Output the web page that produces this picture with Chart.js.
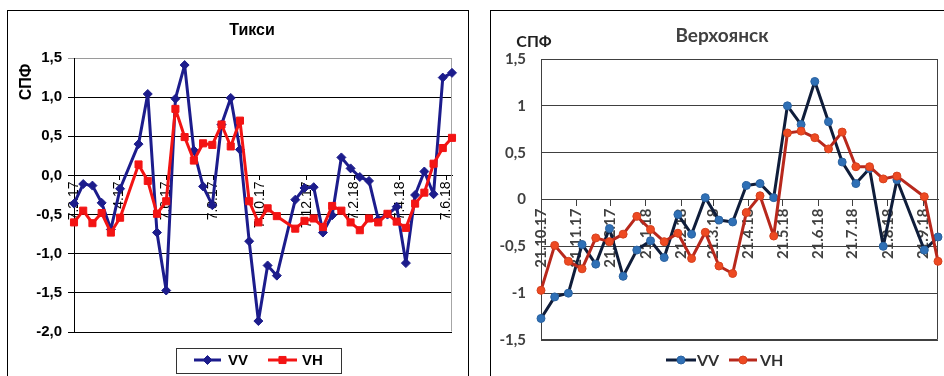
<!DOCTYPE html>
<html>
<head>
<meta charset="utf-8">
<script src="https://cdn.jsdelivr.net/npm/chart.js@4.4.1/dist/chart.umd.min.js"></script>
<style>
  html, body { margin: 0; padding: 0; background: #fff; overflow: hidden; width: 944px; height: 376px; }
  .panel { position: absolute; box-sizing: border-box; border: 1px solid #000; background: #fff; }
  #tiksiPanel { left: 7px; top: 10px; width: 462px; height: 400px; }
  #verkhPanel { left: 490px; top: 10px; width: 480px; height: 400px; }
  canvas { position: absolute; left: 0; top: 0; }
</style>
</head>
<body>
<div class="panel" id="tiksiPanel"><canvas id="tiksi" width="460" height="365"></canvas></div>
<div class="panel" id="verkhPanel"><canvas id="verkh" width="453" height="365"></canvas></div>
<script>
// ---- Тикси: acquisition dates and backscatter anomalies (СПФ) ----
const tiksiDates = [
  '2017-02-07','2017-02-19','2017-03-03','2017-03-15','2017-03-27','2017-04-08',
  '2017-05-02','2017-05-14','2017-05-26','2017-06-07','2017-06-19','2017-07-01',
  '2017-07-13','2017-07-25','2017-08-06','2017-08-18','2017-08-30','2017-09-11',
  '2017-09-23','2017-10-05','2017-10-17','2017-10-29',
  '2017-11-22','2017-12-04','2017-12-16','2017-12-28','2018-01-09','2018-01-21',
  '2018-02-02','2018-02-14','2018-02-26','2018-03-10','2018-03-22','2018-04-03',
  '2018-04-15','2018-04-27','2018-05-09','2018-05-21','2018-06-02','2018-06-14'
];
const tiksiVV = [
  -0.36, -0.11, -0.13, -0.35, -0.69, -0.17,
   0.40,  1.04, -0.73, -1.47,  0.98,  1.41,
   0.32, -0.14, -0.38,  0.65,  0.99,  0.33,
  -0.84, -1.86, -1.15, -1.28,
  -0.31, -0.16, -0.15, -0.73, -0.51,  0.23,
   0.09, -0.02, -0.07, -0.56, -0.50, -0.40,
  -1.12, -0.25,  0.05, -0.24,  1.25,  1.31
];
const tiksiVH = [
  -0.60, -0.45, -0.61, -0.48, -0.73, -0.54,
   0.14, -0.07, -0.49, -0.33,  0.85,  0.49,
   0.19,  0.41,  0.39,  0.65,  0.37,  0.70,
  -0.33, -0.60, -0.42, -0.52,
  -0.68, -0.58, -0.55, -0.66, -0.39, -0.45,
  -0.60, -0.70, -0.55, -0.60, -0.49, -0.59,
  -0.67, -0.36, -0.22,  0.15,  0.35,  0.48
];
const tiksiTicks = ['2017-02-07','2017-04-07','2017-06-07','2017-08-07','2017-10-07',
                    '2017-12-07','2018-02-07','2018-04-07','2018-06-07'];
const tiksiRange = ['2017-02-07', '2018-06-14'];

// ---- Верхоянск ----
const verkhDates = [
  '2017-10-21','2017-11-02','2017-11-14','2017-11-26','2017-12-08','2017-12-20',
  '2018-01-01','2018-01-13','2018-01-25','2018-02-06','2018-02-18','2018-03-02',
  '2018-03-14','2018-03-26','2018-04-07','2018-04-19','2018-05-01','2018-05-13',
  '2018-05-25','2018-06-06','2018-06-18','2018-06-30','2018-07-12','2018-07-24',
  '2018-08-05','2018-08-17','2018-08-29','2018-09-22','2018-10-04'
];
const verkhVV = [
  -1.27, -1.04, -1.00, -0.48, -0.69, -0.31,
  -0.82, -0.54, -0.44, -0.62, -0.16, -0.37,
   0.02, -0.22, -0.24,  0.15,  0.17,  0.02,
   1.00,  0.80,  1.26,  0.83,  0.40,  0.17,
   0.33, -0.50,  0.21, -0.54, -0.40
];
const verkhVH = [
  -0.97, -0.49, -0.66, -0.74, -0.41, -0.45,
  -0.37, -0.18, -0.32, -0.45, -0.36, -0.63,
  -0.35, -0.71, -0.79, -0.14,  0.04, -0.39,
   0.71,  0.73,  0.66,  0.54,  0.72,  0.35,
   0.35,  0.22,  0.25,  0.03, -0.66
];
const verkhTicks = ['2017-10-21','2017-11-21','2017-12-21','2018-01-21','2018-02-21','2018-03-21',
                    '2018-04-21','2018-05-21','2018-06-21','2018-07-21','2018-08-21','2018-09-21'];
const verkhRange = ['2017-10-21', '2018-10-04'];

// ---- helpers ----
const DAY = 86400000;
const toDay = s => { const [y, m, d] = s.split('-').map(Number); return Date.UTC(y, m - 1, d) / DAY; };
const fmtDate = v => {
  const dt = new Date(Math.round(v) * DAY);
  return dt.getUTCDate() + '.' + (dt.getUTCMonth() + 1) + '.' + String(dt.getUTCFullYear()).slice(2);
};
const series = (dates, vals) => dates.map((d, i) => ({ x: toDay(d), y: vals[i] }));
const commaFixed = v => v.toFixed(1).replace('.', ',');
const commaShort = v => (Math.abs(v - Math.round(v)) < 1e-9 ? String(Math.round(v)) : v.toFixed(1).replace('.', ','));

// frame lines under the series, captions and a line+marker legend on top
const sheetDecor = {
  id: 'sheetDecor',
  beforeDatasetsDraw(chart, args, o) {
    if (!o.frame) return;
    const { ctx, chartArea: a } = chart;
    ctx.save();
    ctx.strokeStyle = o.frame.color;
    ctx.lineWidth = 1;
    ctx.beginPath();
    const L = Math.round(a.left) + 0.5, R = Math.round(a.right) - 0.5;
    const T = Math.round(a.top) + 0.5, B = Math.round(a.bottom) - 0.5;
    if (o.frame.sides.includes('right')) { ctx.moveTo(R, T); ctx.lineTo(R, B); }
    if (o.frame.sides.includes('top')) { ctx.moveTo(L, T); ctx.lineTo(R, T); }
    if (o.frame.sides.includes('bottom')) { ctx.moveTo(L, B); ctx.lineTo(R, B); }
    if (o.frame.sides.includes('left')) { ctx.moveTo(L, T); ctx.lineTo(L, B); }
    ctx.stroke();
    ctx.restore();
  },
  afterDraw(chart, args, o) {
    const ctx = chart.ctx;
    (o.texts || []).forEach(t => {
      ctx.save();
      ctx.font = t.font;
      ctx.fillStyle = t.color;
      ctx.textAlign = 'center';
      ctx.textBaseline = 'middle';
      ctx.translate(t.x, t.y);
      if (t.rotate) ctx.rotate(t.rotate);
      ctx.fillText(t.text, 0, 0);
      ctx.restore();
    });
    const lg = o.legend;
    if (!lg) return;
    ctx.save();
    if (lg.box) {
      ctx.strokeStyle = lg.box.color;
      ctx.lineWidth = 1;
      ctx.strokeRect(lg.box.x + 0.5, lg.box.y + 0.5, lg.box.w, lg.box.h);
    }
    chart.data.datasets.forEach((ds, i) => {
      const it = lg.items[i];
      ctx.strokeStyle = ds.borderColor;
      ctx.lineWidth = ds.borderWidth;
      ctx.beginPath();
      ctx.moveTo(it.x0, lg.y);
      ctx.lineTo(it.x1, lg.y);
      ctx.stroke();
      ctx.fillStyle = ds.pointBackgroundColor;
      ctx.strokeStyle = ds.pointBorderColor;
      ctx.lineWidth = ds.pointBorderWidth;
      Chart.helpers.drawPoint(ctx, { pointStyle: ds.pointStyle, radius: ds.pointRadius, rotation: 0, borderWidth: ds.pointBorderWidth },
        (it.x0 + it.x1) / 2, lg.y);
      ctx.font = lg.font;
      ctx.fillStyle = lg.color;
      ctx.textAlign = 'left';
      ctx.textBaseline = 'middle';
      ctx.fillText(ds.label, it.tx, lg.y + 1);
    });
    ctx.restore();
  }
};

function zeroHeight(scale) { scale.height = 0; scale.paddingLeft = 0; scale.paddingRight = 0; }

// ---- Тикси chart ----
const ARIAL = '"Liberation Sans", Arial, sans-serif';
new Chart(document.getElementById('tiksi'), {
  type: 'line',
  data: {
    datasets: [
      { label: 'VV', data: series(tiksiDates, tiksiVV), order: 2, clip: false,
        borderColor: '#1c1c8c', borderWidth: 3, borderJoinStyle: 'round', pointStyle: 'rectRot', pointRadius: 4.5,
        pointBackgroundColor: '#1c1c8c', pointBorderColor: '#1c1c8c', pointBorderWidth: 1, tension: 0 },
      { label: 'VH', data: series(tiksiDates, tiksiVH), order: 1, clip: false,
        borderColor: '#f31414', borderWidth: 3, borderJoinStyle: 'round', pointStyle: 'rect', pointRadius: 5,
        pointBackgroundColor: '#f31414', pointBorderColor: '#f31414', pointBorderWidth: 1, tension: 0 }
    ]
  },
  options: {
    responsive: false, animation: false, events: [],
    layout: { padding: { left: 0, right: 16, top: 47, bottom: 44 } },
    scales: {
      x: {
        type: 'linear', position: { y: 0 },
        min: toDay(tiksiRange[0]), max: toDay(tiksiRange[1]),
        afterBuildTicks: s => { s.ticks = tiksiTicks.map(d => ({ value: toDay(d) })); },
        afterFit: zeroHeight,
        border: { display: true, color: '#000', width: 1 },
        grid: { drawOnChartArea: false, drawTicks: true, tickLength: 4, color: '#000' },
        ticks: { autoSkip: false, minRotation: 90, maxRotation: 90, padding: 2,
                 color: '#000', font: { family: ARIAL, size: 14 }, callback: v => fmtDate(v) }
      },
      y: {
        min: -2, max: 1.5,
        afterFit: s => { s.width = 66; },
        border: { display: true, color: '#000', width: 1 },
        grid: { color: c => (c.tick && c.tick.value === 1.5 ? '#9a9a9a' : '#000'), lineWidth: 1, tickLength: 6 },
        ticks: { stepSize: 0.5, padding: 6, color: '#000',
                 font: { family: ARIAL, size: 15, weight: 'bold' }, callback: v => commaFixed(v) }
      }
    },
    plugins: {
      legend: { display: false }, tooltip: { enabled: false }, title: { display: false },
      sheetDecor: {
        frame: { color: '#a6a6a6', sides: ['right'] },
        texts: [
          { text: 'Тикси', x: 244, y: 20, font: 'bold 16px ' + ARIAL, color: '#000' },
          { text: 'СПФ', x: 19, y: 71, rotate: -Math.PI / 2, font: 'bold 16px ' + ARIAL, color: '#000' }
        ],
        legend: {
          box: { x: 168, y: 337, w: 165, h: 25, color: '#333' },
          y: 349, font: 'bold 15px ' + ARIAL, color: '#000',
          items: [ { x0: 186, x1: 213, tx: 220 }, { x0: 260, x1: 289, tx: 294 } ]
        }
      }
    }
  },
  plugins: [sheetDecor]
});

// ---- Верхоянск chart ----
const LATO = 'Lato, "Open Sans", sans-serif';
new Chart(document.getElementById('verkh'), {
  type: 'line',
  data: {
    datasets: [
      { label: 'VV', data: series(verkhDates, verkhVV), order: 2, clip: false,
        borderColor: '#0f1d3a', borderWidth: 3, borderJoinStyle: 'round', pointStyle: 'circle', pointRadius: 4,
        pointBackgroundColor: '#2f70b6', pointBorderColor: '#2a62a0', pointBorderWidth: 1, tension: 0 },
      { label: 'VH', data: series(verkhDates, verkhVH), order: 1, clip: false,
        borderColor: '#b8281c', borderWidth: 3, borderJoinStyle: 'round', pointStyle: 'circle', pointRadius: 4,
        pointBackgroundColor: '#ee4a22', pointBorderColor: '#d4401d', pointBorderWidth: 1, tension: 0 }
    ]
  },
  options: {
    responsive: false, animation: false, events: [],
    layout: { padding: { left: 0, right: 6, top: 48, bottom: 36 } },
    scales: {
      x: {
        type: 'linear', position: { y: 0 },
        min: toDay(verkhRange[0]), max: toDay(verkhRange[1]),
        afterBuildTicks: s => { s.ticks = verkhTicks.map(d => ({ value: toDay(d) })); },
        afterFit: zeroHeight,
        border: { display: true, color: '#404040', width: 1 },
        grid: { drawOnChartArea: false, drawTicks: true, tickLength: 6, color: '#404040' },
        ticks: { autoSkip: false, minRotation: 90, maxRotation: 90, padding: 3,
                 color: '#404040', font: { family: LATO, size: 15, weight: 'bold' }, callback: v => fmtDate(v) }
      },
      y: {
        min: -1.5, max: 1.5,
        afterFit: s => { s.width = 50; },
        border: { display: true, color: '#404040', width: 1 },
        grid: { color: '#404040', lineWidth: 1, drawTicks: false },
        ticks: { stepSize: 0.5, padding: 15, color: '#404040',
                 font: { family: LATO, size: 15, weight: 'bold' }, callback: v => commaShort(v) }
      }
    },
    plugins: {
      legend: { display: false }, tooltip: { enabled: false }, title: { display: false },
      sheetDecor: {
        frame: { color: '#404040', sides: ['right', 'top', 'bottom'] },
        texts: [
          { text: 'Верхоянск', x: 231, y: 25, font: 'bold 19px ' + LATO, color: '#404040' },
          { text: 'СПФ', x: 43, y: 31, font: 'bold 16px ' + LATO, color: '#202020' }
        ],
        legend: {
          y: 349, font: 'bold 16px ' + LATO, color: '#303030',
          items: [ { x0: 175, x1: 205, tx: 206 }, { x0: 238, x1: 266, tx: 269 } ]
        }
      }
    }
  },
  plugins: [sheetDecor]
});
</script>
</body>
</html>
